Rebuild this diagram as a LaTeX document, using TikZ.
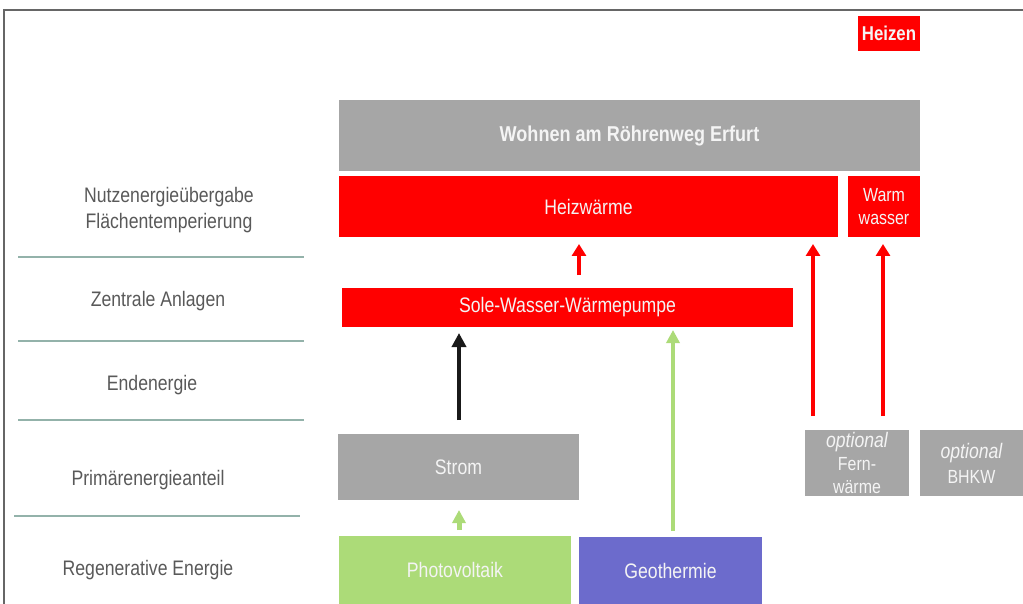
\documentclass[tikz,border=0pt]{standalone}
\usepackage{fontspec}
\setmainfont{Liberation Sans}[FakeStretch=0.84]
\usetikzlibrary{arrows.meta}
\definecolor{cred}{HTML}{FF0000}
\definecolor{cgray}{HTML}{A6A6A6}
\definecolor{cgreen}{HTML}{ACDB78}
\definecolor{cblue}{HTML}{6C6BCC}
\definecolor{clabel}{HTML}{595959}
\definecolor{csep}{HTML}{93B2AA}
\definecolor{cframe}{HTML}{666666}
\definecolor{cwhite}{HTML}{F4F4F4}
\tikzset{
  box/.style={anchor=north west, inner sep=0pt, outer sep=0pt, text=cwhite, align=center, font=\fontsize{21}{24}\selectfont},
  lbl/.style={text=clabel, align=center, font=\fontsize{21}{26}\selectfont},
  sepline/.style={draw=csep, line width=1.5pt},
  redarr/.style={draw=cred, line width=4pt, -{Triangle[width=14pt,length=12pt]}},
  blkarr/.style={draw=black!90, line width=3.5pt, -{Triangle[width=14pt,length=14pt]}},
  grnarr/.style={draw=cgreen, line width=3.5pt, -{Triangle[width=13pt,length=13pt]}},
}
\begin{document}
\begin{tikzpicture}[x=1pt,y=-1pt]
\useasboundingbox (0,0) rectangle (1023,604);
% frame
\draw[cframe, line width=2pt] (4,604) -- (4,10) -- (1023,10);
% boxes
\node[box, fill=cred, minimum width=62pt, minimum height=35pt, font=\fontsize{20}{24}\selectfont\bfseries] (heizen) at (858,16) {Heizen};
\node[box, fill=cgray, minimum width=581pt, minimum height=71pt, font=\fontsize{21.5}{24}\selectfont\bfseries] (wohnen) at (339,100) {\raisebox{-3pt}{Wohnen am Röhrenweg Erfurt}};
\node[box, fill=cred, minimum width=499pt, minimum height=61pt] (heiz) at (339,176) {Heizwärme};
\node[box, fill=cred, minimum width=72pt, minimum height=61pt, font=\fontsize{19}{23}\selectfont] (warm) at (848,176) {Warm\\wasser};
\node[box, fill=cred, minimum width=451pt, minimum height=39pt] (sole) at (342,288) {\raisebox{-2pt}{Sole-Wasser-Wärmepumpe}};
\node[box, fill=cgray, minimum width=241pt, minimum height=66pt] (strom) at (338,434) {\raisebox{-1pt}{Strom}};
\node[box, fill=cgreen, minimum width=232pt, minimum height=68pt] (pv) at (339,536) {\raisebox{-3pt}{Photovoltaik}};
\node[box, fill=cblue, minimum width=183pt, minimum height=67pt] (geo) at (579,537) {\raisebox{-2pt}{Geothermie}};
\node[box, fill=cgray, minimum width=104pt, minimum height=66pt, font=\fontsize{19}{23}\selectfont] (fern) at (805,430) {{\fontsize{21}{23}\selectfont\itshape optional}\\Fern-\\wärme};
\node[box, fill=cgray, minimum width=103pt, minimum height=66pt, font=\fontsize{19}{25}\selectfont] (bhkw) at (920,430) {{\fontsize{21}{25}\selectfont\itshape optional}\\BHKW};
% left labels
\node[lbl] (l1) at (169,210) {Nutzenergieübergabe\\Flächentemperierung};
\node[lbl] (l2) at (158,301) {Zentrale Anlagen};
\node[lbl] (l3) at (152,385) {Endenergie};
\node[lbl] (l4) at (148,480) {Primärenergieanteil};
\node[lbl] (l5) at (148,570) {Regenerative Energie};
% separators
\draw[sepline] (18,257) -- (304,257);
\draw[sepline] (18,341) -- (304,341);
\draw[sepline] (18,420) -- (304,420);
\draw[sepline] (14,516) -- (300,516);
% arrows
\draw[redarr, shorten <=13pt, shorten >=7pt] ([xshift=237pt]sole.north west) -- ([xshift=240pt]heiz.south west);
\draw[redarr, shorten <=14pt, shorten >=7pt] ([xshift=8pt]fern.north west) -- ([xshift=474pt]heiz.south west);
\draw[redarr, shorten <=14pt, shorten >=7pt] ([xshift=78pt]fern.north west) -- ([xshift=35pt]warm.south west);
\draw[blkarr, shorten <=14pt, shorten >=6pt] ([xshift=121pt]strom.north west) -- ([xshift=117pt]sole.south west);
\draw[grnarr, shorten <=6pt, shorten >=3pt] ([xshift=94pt]geo.north west) -- ([xshift=331pt]sole.south west);
\draw[grnarr, line width=5pt, shorten <=6pt, shorten >=10pt] ([xshift=120pt]pv.north west) -- ([xshift=121pt]strom.south west);
\end{tikzpicture}
\end{document}
